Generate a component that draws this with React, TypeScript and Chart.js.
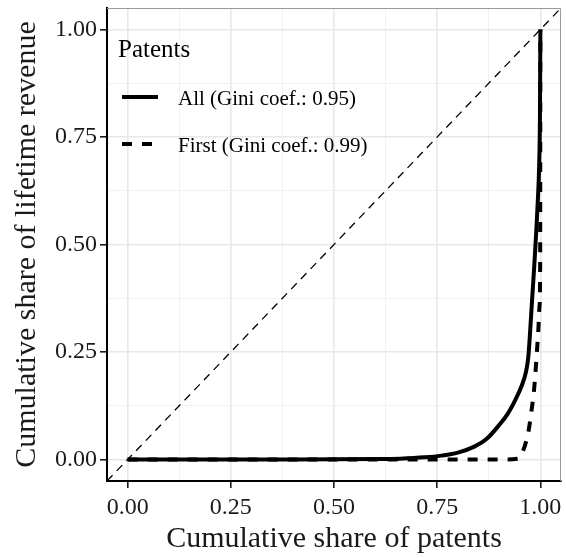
import React, { useEffect, useRef } from "react";
import { Chart, registerables } from "chart.js";

Chart.register(...registerables);

// ---- data ----
const allX = [0, 0.2, 0.4, 0.6, 0.66, 0.72, 0.76, 0.8, 0.84, 0.87, 0.9, 0.92, 0.94, 0.955, 0.965, 0.971, 0.976, 0.98, 0.9855, 0.99, 0.994, 0.997, 0.999, 1.0];
const allY = [0, 0, 0, 0.001, 0.002, 0.005, 0.009, 0.016, 0.03, 0.048, 0.08, 0.105, 0.14, 0.172, 0.203, 0.24, 0.31, 0.372, 0.455, 0.53, 0.605, 0.682, 0.8, 1.0];
const firstX = [0, 0.3, 0.6, 0.9, 0.945, 0.956, 0.965, 0.972, 0.978, 0.984, 0.988, 0.992, 0.995, 0.998, 0.9995, 1.0];
const firstY = [0, 0, 0, 0, 0.002, 0.016, 0.04, 0.07, 0.11, 0.155, 0.2, 0.256, 0.3, 0.357, 0.45, 1.0];
const diagX = [-0.05, 1.05];
const diagY = [-0.05, 1.05];
const majorTicks = [0, 0.25, 0.5, 0.75, 1.0];
const minorTicks = [0.125, 0.375, 0.625, 0.875];
const tickLabels = ["0.00", "0.25", "0.50", "0.75", "1.00"];
const legendTitle = "Patents";
const seriesNames = ["All (Gini coef.: 0.95)", "First (Gini coef.: 0.99)"];
const xTitle = "Cumulative share of patents";
const yTitle = "Cumulative share of lifetime revenue";

const FONT = "'Liberation Serif', 'Times New Roman', serif";
const DASH = [10, 10];

const zip = (xs: number[], ys: number[]) => xs.map((x, i) => ({ x, y: ys[i] }));
const isMajor = (v: number) => majorTicks.some((m) => Math.abs(m - v) < 1e-9);

const legendPlugin = {
  id: "insideLegend",
  afterDatasetsDraw(chart: any) {
    const { ctx, chartArea } = chart;
    ctx.save();
    // panel border top/right
    ctx.strokeStyle = "#9a9a9a";
    ctx.lineWidth = 1;
    ctx.beginPath();
    ctx.moveTo(chartArea.left, chartArea.top + 0.5);
    ctx.lineTo(chartArea.right - 0.5, chartArea.top + 0.5);
    ctx.lineTo(chartArea.right - 0.5, chartArea.bottom);
    ctx.stroke();

    const lx = chartArea.left + 11;
    ctx.fillStyle = "#000";
    ctx.textBaseline = "alphabetic";
    ctx.textAlign = "left";
    ctx.font = `25px ${FONT}`;
    ctx.fillText(legendTitle, lx, 57);
    const rows = [97, 144];
    ctx.font = `21px ${FONT}`;
    rows.forEach((y, i) => {
      ctx.strokeStyle = "#000";
      ctx.lineWidth = 4;
      ctx.lineCap = "butt";
      ctx.setLineDash(i === 0 ? [] : DASH);
      ctx.beginPath();
      ctx.moveTo(lx + 4, y);
      ctx.lineTo(lx + 40, y);
      ctx.stroke();
      ctx.setLineDash([]);
      ctx.fillText(seriesNames[i], lx + 60, y + 8);
    });
    ctx.restore();
  },
};

export default function App() {
  const ref = useRef<HTMLCanvasElement | null>(null);
  useEffect(() => {
    document.body.style.margin = "0";
    const canvas = ref.current!;
    const tickValues = [...majorTicks, ...minorTicks].sort((a, b) => a - b);
    const axisCommon = (pos: string) => ({
      type: "linear" as const,
      min: -0.05,
      max: 1.05,
      afterBuildTicks: (scale: any) => {
        scale.ticks = tickValues.map((v) => ({ value: v }));
      },
      ticks: {
        autoSkip: false,
        maxRotation: 0,
        color: "#1a1a1a",
        font: { family: FONT, size: 24 },
        padding: pos === "x" ? 5 : 3,
        callback: (v: number) => {
          const idx = majorTicks.findIndex((m) => Math.abs(m - v) < 1e-9);
          return idx >= 0 ? tickLabels[idx] : "";
        },
      },
      grid: {
        color: (c: any) => (c.tick && isMajor(c.tick.value) ? "#e8e8e8" : "#efefef"),
        lineWidth: (c: any) => (c.tick && isMajor(c.tick.value) ? 1.6 : 0.9),
        tickColor: (c: any) => (c.tick && isMajor(c.tick.value) ? "#1a1a1a" : "rgba(0,0,0,0)"),
        tickWidth: 1.6,
        tickLength: 7,
        drawTicks: true,
      },
      border: { display: true, color: "#000", width: 2 },
    });
    const chart = new Chart(canvas, {
      type: "scatter",
      data: {
        datasets: [
          {
            data: zip(diagX, diagY),
            showLine: true,
            borderColor: "#000",
            borderWidth: 1.3,
            borderDash: [8, 6],
            pointRadius: 0,
          },
          {
            label: seriesNames[0],
            data: zip(allX, allY),
            showLine: true,
            borderColor: "#000",
            borderWidth: 4,
            pointRadius: 0,
            cubicInterpolationMode: "monotone",
            borderCapStyle: "butt",
            borderJoinStyle: "round",
          },
          {
            label: seriesNames[1],
            data: zip(firstX, firstY),
            showLine: true,
            borderColor: "#000",
            borderWidth: 4,
            borderDash: DASH,
            pointRadius: 0,
            cubicInterpolationMode: "monotone",
            borderCapStyle: "butt",
          },
        ],
      },
      options: {
        responsive: false,
        animation: false,
        layout: { padding: { top: 8, right: 5, left: 0, bottom: 0 } },
        plugins: { legend: { display: false }, tooltip: { enabled: false } },
        scales: {
          x: {
            ...axisCommon("x"),
            position: "bottom",
            afterFit: (s: any) => {
              s.height = 77;
              s.paddingLeft = 0;
              s.paddingRight = 0;
            },
            title: {
              display: true,
              text: xTitle,
              color: "#1a1a1a",
              font: { family: FONT, size: 30 },
              padding: { top: 0, bottom: 1 },
            },
          },
          y: {
            ...axisCommon("y"),
            position: "left",
            afterFit: (s: any) => {
              s.width = 107;
              s.paddingTop = 0;
              s.paddingBottom = 0;
            },
            title: {
              display: true,
              text: yTitle,
              color: "#1a1a1a",
              font: { family: FONT, size: 30 },
              padding: { top: 9, bottom: 0 },
            },
          },
        },
      },
      plugins: [legendPlugin],
    } as any);
    return () => chart.destroy();
  }, []);
  return <canvas ref={ref} width={566} height={558} style={{ display: "block" }} />;
}
